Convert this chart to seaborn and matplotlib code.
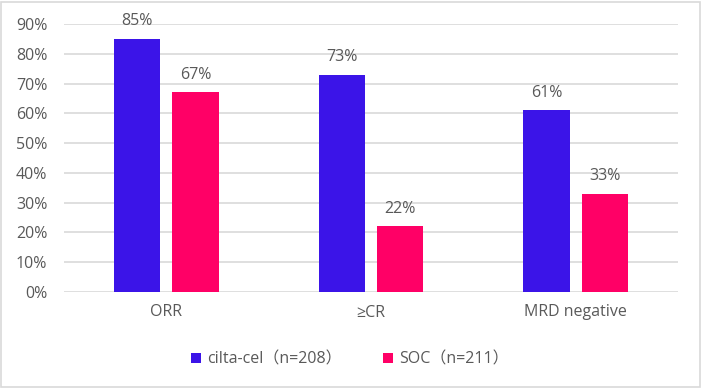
import pandas as pd
import seaborn as sns
import matplotlib.pyplot as plt
from matplotlib.patches import Rectangle

categories = ['ORR', '≥CR', 'MRD negative']
cilta_cel = [0.85, 0.73, 0.61]
soc = [0.67, 0.22, 0.33]
series_names = ['cilta-cel（n=208）', 'SOC（n=211）']
colors = ['#3B14E8', '#FF0066']
yticks = [0, 0.1, 0.2, 0.3, 0.4, 0.5, 0.6, 0.7, 0.8, 0.9]

df = pd.DataFrame({
    'category': categories * 2,
    'value': cilta_cel + soc,
    'series': [series_names[0]] * 3 + [series_names[1]] * 3,
})

sns.set_style('white')
plt.rcParams['font.family'] = ['Open Sans', 'Noto Sans CJK SC', 'DejaVu Sans']
txt = '#595959'

fig = plt.figure(figsize=(7.02, 3.88), dpi=100)
ax = fig.add_axes([64 / 702, 1 - 292 / 388, 614 / 702, 268 / 388])

sns.barplot(data=df, x='category', y='value', hue='series', palette=colors,
            saturation=1, width=0.57, gap=0.21, linewidth=0, ax=ax, legend=True)

ax.set_ylim(0, 0.9)
ax.set_yticks(yticks)
ax.set_yticklabels([f'{int(round(t * 100))}%' for t in yticks])
ax.yaxis.grid(True, color='#D9D9D9', linewidth=1.2)
ax.set_axisbelow(True)
for s in ax.spines.values():
    s.set_visible(False)
ax.tick_params(axis='both', length=0, labelsize=11.5, colors=txt)
ax.tick_params(axis='y', pad=12)
ax.tick_params(axis='x', pad=9)
ax.set_xlabel('')
ax.set_ylabel('')

for cont in ax.containers:
    ax.bar_label(cont, labels=[f'{int(round(v * 100))}%' for v in cont.datavalues],
                 padding=7, fontsize=11.5, color=txt)

ax.legend(loc='upper center', bbox_to_anchor=(0.466, -0.17), ncol=2, frameon=False,
          fontsize=11.5, handlelength=0.6, handleheight=0.6, handletextpad=0.4,
          columnspacing=2.6, labelcolor=txt)

fig.patches.append(Rectangle((0.002, 0.003), 0.995, 0.993, transform=fig.transFigure,
                             fill=False, edgecolor='#D9D9D9', linewidth=1.2))

fig.savefig('out.png', dpi=100)
